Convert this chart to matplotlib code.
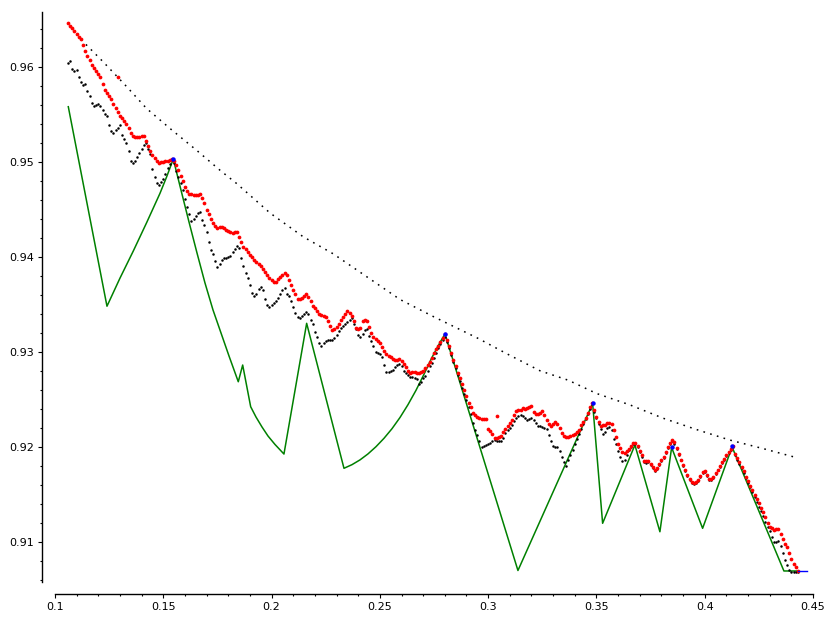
import numpy as np
import matplotlib
matplotlib.use("Agg")
import matplotlib.pyplot as plt
from matplotlib.ticker import FixedLocator, MultipleLocator

# dots are sampled every 0.001 starting at x = 0.106
X_START = 0.106
X_STEP = 0.001

red_y = [
    0.96460, 0.96431, 0.96403, 0.96375, 0.96346, 0.96318, 0.96290, 0.96230, 0.96170, 0.96117,  # 0.106
    0.96066, 0.96015, 0.95983, 0.95952, 0.95921, 0.95888, 0.95822, 0.95760, 0.95725, 0.95691,  # 0.116
    0.95657, 0.95611, 0.95565, 0.95519, 0.95484, 0.95459, 0.95427, 0.95396, 0.95355, 0.95300,  # 0.126
    0.95276, 0.95262, 0.95255, 0.95262, 0.95269, 0.95270, 0.95215, 0.95162, 0.95117, 0.95070,  # 0.136
    0.95040, 0.95005, 0.94985, 0.94992, 0.95000, 0.95006, 0.95012, 0.95018, 0.95024, 0.95010,  # 0.146
    0.94970, 0.94912, 0.94845, 0.94792, 0.94738, 0.94690, 0.94660, 0.94655, 0.94650, 0.94650,  # 0.156
    0.94654, 0.94655, 0.94615, 0.94565, 0.94492, 0.94446, 0.94400, 0.94360, 0.94320, 0.94300,  # 0.166
    0.94308, 0.94316, 0.94300, 0.94285, 0.94270, 0.94255, 0.94248, 0.94255, 0.94262, 0.94210,  # 0.176
    0.94160, 0.94105, 0.94077, 0.94049, 0.94020, 0.93995, 0.93970, 0.93947, 0.93923, 0.93900,  # 0.186
    0.93870, 0.93840, 0.93810, 0.93780, 0.93760, 0.93735, 0.93735, 0.93765, 0.93790, 0.93810,  # 0.196
    0.93830, 0.93805, 0.93760, 0.93705, 0.93650, 0.93605, 0.93555, 0.93555, 0.93570, 0.93585,  # 0.206
    0.93605, 0.93575, 0.93535, 0.93480, 0.93455, 0.93425, 0.93395, 0.93382, 0.93375, 0.93365,  # 0.216
    0.93320, 0.93270, 0.93228, 0.93240, 0.93262, 0.93295, 0.93330, 0.93365, 0.93400, 0.93430,  # 0.226
    0.93410, 0.93376, 0.93320, 0.93250, 0.93240, 0.93250, 0.93320, 0.93330, 0.93325, 0.93260,  # 0.236
    0.93200, 0.93158, 0.93135, 0.93110, 0.93088, 0.93050, 0.93010, 0.92980, 0.92958, 0.92940,  # 0.246
    0.92925, 0.92913, 0.92916, 0.92920, 0.92900, 0.92875, 0.92840, 0.92800, 0.92773, 0.92785,  # 0.256
    0.92785, 0.92773, 0.92780, 0.92789, 0.92800, 0.92825, 0.92855, 0.92895, 0.92935, 0.92985,  # 0.266
    0.93030, 0.93065, 0.93105, 0.93145, 0.93186, 0.93120, 0.93055, 0.92985, 0.92910, 0.92845,  # 0.276
    0.92780, 0.92720, 0.92655, 0.92595, 0.92530, 0.92465, 0.92420, 0.92360, 0.92330, 0.92310,  # 0.286
    0.92300, 0.92292, 0.92292, 0.92292, 0.92190, 0.92165, 0.92135, 0.92095, 0.92090, 0.92100,  # 0.296
    0.92115, 0.92150, 0.92190, 0.92218, 0.92250, 0.92285, 0.92330, 0.92380, 0.92390, 0.92390,  # 0.306
    0.92410, 0.92400, 0.92410, 0.92420, 0.92428, 0.92368, 0.92345, 0.92345, 0.92360, 0.92379,  # 0.316
    0.92330, 0.92281, 0.92235, 0.92215, 0.92240, 0.92263, 0.92240, 0.92200, 0.92141, 0.92115,  # 0.326
    0.92105, 0.92105, 0.92110, 0.92120, 0.92135, 0.92150, 0.92180, 0.92225, 0.92265, 0.92300,  # 0.336
    0.92350, 0.92415, 0.92463, 0.92390, 0.92318, 0.92260, 0.92218, 0.92225, 0.92230, 0.92245,  # 0.346
    0.92253, 0.92240, 0.92180, 0.92100, 0.92030, 0.91985, 0.91940, 0.91935, 0.91950, 0.91975,  # 0.356
    0.92005, 0.92036, 0.92042, 0.92010, 0.91960, 0.91910, 0.91850, 0.91845, 0.91853, 0.91820,  # 0.366
    0.91785, 0.91755, 0.91780, 0.91820, 0.91860, 0.91895, 0.91940, 0.91995, 0.92040, 0.92070,  # 0.376
    0.92045, 0.91990, 0.91925, 0.91865, 0.91810, 0.91755, 0.91700, 0.91655, 0.91630, 0.91622,  # 0.386
    0.91630, 0.91650, 0.91690, 0.91730, 0.91745, 0.91700, 0.91655, 0.91660, 0.91685, 0.91720,  # 0.396
    0.91760, 0.91797, 0.91835, 0.91870, 0.91910, 0.91945, 0.91975, 0.92005, 0.91928, 0.91880,  # 0.406
    0.91835, 0.91789, 0.91740, 0.91685, 0.91635, 0.91590, 0.91545, 0.91495, 0.91450, 0.91405,  # 0.416
    0.91360, 0.91310, 0.91260, 0.91200, 0.91160, 0.91140, 0.91125, 0.91130, 0.91135, 0.91080,  # 0.426
    0.91030, 0.90980, 0.90940, 0.90880, 0.90815, 0.90770, 0.90730, 0.90688,                    # 0.436
]

black_y = [
    0.96036, 0.96055, 0.95975, 0.95955, 0.95965, 0.95892, 0.95835, 0.95810, 0.95820, 0.95740,  # 0.106
    0.95690, 0.95620, 0.95582, 0.95595, 0.95610, 0.95590, 0.95545, 0.95500, 0.95485, 0.95390,  # 0.116
    0.95320, 0.95300, 0.95330, 0.95360, 0.95385, 0.95280, 0.95240, 0.95200, 0.95110, 0.95010,  # 0.126
    0.94985, 0.95010, 0.95045, 0.95090, 0.95135, 0.95180, 0.95200, 0.95130, 0.95080, 0.94920,  # 0.136
    0.94840, 0.94780, 0.94755, 0.94790, 0.94820, 0.94870, 0.94930, 0.94975, 0.95020, 0.94985,  # 0.146
    0.94905, 0.94840, 0.94775, 0.94700, 0.94610, 0.94520, 0.94450, 0.94380, 0.94395, 0.94430,  # 0.156
    0.94460, 0.94470, 0.94390, 0.94330, 0.94265, 0.94150, 0.94075, 0.94025, 0.93960, 0.93895,  # 0.166
    0.93928, 0.93965, 0.93983, 0.93983, 0.93995, 0.94010, 0.94045, 0.94080, 0.94110, 0.94090,  # 0.176
    0.93985, 0.93900, 0.93830, 0.93780, 0.93705, 0.93620, 0.93585, 0.93610, 0.93660, 0.93680,  # 0.186
    0.93650, 0.93560, 0.93495, 0.93476, 0.93490, 0.93510, 0.93535, 0.93570, 0.93605, 0.93645,  # 0.196
    0.93675, 0.93605, 0.93590, 0.93530, 0.93475, 0.93410, 0.93370, 0.93355, 0.93375, 0.93395,  # 0.206
    0.93418, 0.93395, 0.93330, 0.93290, 0.93210, 0.93150, 0.93090, 0.93060, 0.93090, 0.93115,  # 0.216
    0.93123, 0.93123, 0.93127, 0.93140, 0.93176, 0.93220, 0.93250, 0.93272, 0.93288, 0.93310,  # 0.226
    0.93334, 0.93358, 0.93290, 0.93240, 0.93176, 0.93160, 0.93190, 0.93230, 0.93240, 0.93165,  # 0.236
    0.93110, 0.93065, 0.93000, 0.92982, 0.92976, 0.92940, 0.92860, 0.92790, 0.92789, 0.92800,  # 0.246
    0.92812, 0.92835, 0.92860, 0.92875, 0.92850, 0.92800, 0.92775, 0.92750, 0.92737, 0.92730,  # 0.256
    0.92722, 0.92715, 0.92660, 0.92680, 0.92720, 0.92745, 0.92800, 0.92845, 0.92880, 0.92935,  # 0.266
    0.92990, 0.93040, 0.93085, 0.93125, 0.93160, 0.93100, 0.93040, 0.92970, 0.92895, 0.92825,  # 0.276
    0.92755, 0.92690, 0.92620, 0.92555, 0.92490, 0.92415, 0.92340, 0.92250, 0.92180, 0.92120,  # 0.286
    0.92060, 0.92000, 0.92005, 0.92015, 0.92028, 0.92040, 0.92055, 0.92068, 0.92062, 0.92055,  # 0.296
    0.92065, 0.92095, 0.92140, 0.92176, 0.92200, 0.92230, 0.92270, 0.92300, 0.92325, 0.92332,  # 0.306
    0.92320, 0.92300, 0.92285, 0.92290, 0.92298, 0.92280, 0.92250, 0.92220, 0.92213, 0.92208,  # 0.316
    0.92200, 0.92190, 0.92120, 0.92060, 0.92005, 0.91992, 0.91995, 0.91960, 0.91890, 0.91840,  # 0.326
    0.91795, 0.91860, 0.91915, 0.91970, 0.92025, 0.92080, 0.92130, 0.92185, 0.92240, 0.92290,  # 0.336
    0.92340, 0.92395, 0.92445, 0.92370, 0.92300, 0.92240, 0.92190, 0.92130, 0.92150, 0.92195,  # 0.346
    0.92204, 0.92178, 0.92080, 0.92025, 0.91960, 0.91890, 0.91850, 0.91855, 0.91910, 0.91965,  # 0.356
    0.91995, 0.92025, 0.92030, 0.91995, 0.91945, 0.91895, 0.91840, 0.91830, 0.91840, 0.91810,  # 0.366
    0.91775, 0.91745, 0.91770, 0.91810, 0.91850, 0.91885, 0.91930, 0.91985, 0.92030, 0.92055,  # 0.376
    0.92030, 0.91975, 0.91915, 0.91855, 0.91800, 0.91745, 0.91690, 0.91645, 0.91620, 0.91612,  # 0.386
    0.91620, 0.91640, 0.91680, 0.91720, 0.91735, 0.91690, 0.91645, 0.91650, 0.91675, 0.91710,  # 0.396
    0.91750, 0.91787, 0.91825, 0.91860, 0.91900, 0.91935, 0.91965, 0.91995, 0.91915, 0.91865,  # 0.406
    0.91820, 0.91775, 0.91725, 0.91670, 0.91620, 0.91575, 0.91525, 0.91470, 0.91420, 0.91370,  # 0.416
    0.91325, 0.91270, 0.91210, 0.91160, 0.91110, 0.91050, 0.91000, 0.90995, 0.91010, 0.90950,  # 0.426
    0.90880, 0.90810, 0.90750, 0.90700, 0.90686, 0.90684, 0.90684, 0.90684,                    # 0.436
]

# two stray red points off the main chain
red_extra_x = [0.1292, 0.3042]
red_extra_y = [0.95895, 0.92326]

# blue marked peaks
blue_x = [0.15462, 0.28006, 0.34825, 0.38500, 0.41280]
blue_y = [0.95028, 0.93186, 0.92463, 0.92000, 0.92007]

# blue tail segment at the bottom right
blue_line_x = [0.44317, 0.44733]
blue_line_y = [0.90692, 0.90692]

green_x = [0.10614, 0.12400, 0.13001, 0.13615, 0.14234, 0.14847, 0.15157, 0.15462,
           0.15817, 0.16187, 0.16556, 0.16925, 0.17295, 0.17664, 0.18033, 0.18463,
           0.18666, 0.19035, 0.19280, 0.19557, 0.19834, 0.20157, 0.20572, 0.21620,
           0.23343, 0.23712, 0.24081, 0.24450, 0.24820, 0.25189, 0.25558, 0.25928,
           0.26297, 0.26667, 0.27036, 0.27405, 0.27775, 0.28006,
           0.31376, 0.34825, 0.35286, 0.36777, 0.37931, 0.38472, 0.39903, 0.41264,
           0.43657, 0.44317]
green_y = [0.95579, 0.93479, 0.93775, 0.94060, 0.94360, 0.94667, 0.94842, 0.95028,
           0.94702, 0.94366, 0.94040, 0.93724, 0.93440, 0.93198, 0.92956, 0.92684,
           0.92860, 0.92421, 0.92313, 0.92208, 0.92113, 0.92024, 0.91923, 0.93299,
           0.91773, 0.91811, 0.91861, 0.91924, 0.92000, 0.92088, 0.92189, 0.92307,
           0.92442, 0.92593, 0.92762, 0.92939, 0.93097, 0.93186,
           0.90697, 0.92455, 0.91194, 0.92018, 0.91105, 0.91992, 0.91141, 0.91997,
           0.90692, 0.90692]

bound_x = [0.1059, 0.1123, 0.1223, 0.1331, 0.1423, 0.1531, 0.1654, 0.1762, 0.1839,
           0.1993, 0.2146, 0.2285, 0.2439, 0.2593, 0.2747, 0.2954, 0.3085, 0.3239,
           0.3370, 0.3501, 0.3655, 0.3808, 0.3963, 0.4116, 0.4270, 0.4416]
bound_y = [0.9646, 0.9628, 0.9605, 0.9579, 0.9556, 0.9535, 0.9512, 0.9491, 0.9477,
           0.9446, 0.9421, 0.9403, 0.9379, 0.9355, 0.9337, 0.9314, 0.9298, 0.9280,
           0.9270, 0.9256, 0.9244, 0.9230, 0.9218, 0.9207, 0.9198, 0.9189]

x_ticks = [0.1, 0.15, 0.2, 0.25, 0.3, 0.35, 0.4, 0.45]
x_labels = ["0.1", "0.15", "0.2", "0.25", "0.3", "0.35", "0.4", "0.45"]
y_ticks = [0.91, 0.92, 0.93, 0.94, 0.95, 0.96]
y_labels = ["0.91", "0.92", "0.93", "0.94", "0.95", "0.96"]


def main():
    red_x = X_START + X_STEP * np.arange(len(red_y))
    black_x = X_START + X_STEP * np.arange(len(black_y))

    fig = plt.figure(figsize=(8.31, 6.22), dpi=100)
    ax = fig.add_axes([55 / 831, 40 / 622, 758 / 831, 570 / 622])

    ax.plot(green_x, green_y, color="#008000", lw=1.1, zorder=1)
    ax.plot(bound_x, bound_y, color="black", lw=1.1,
            linestyle=(0, (1.1, 3.5)), zorder=2)
    ax.plot(black_x, black_y, "o", color="black", ms=1.8, mew=0, zorder=3)
    ax.plot(red_x, red_y, "o", color="#ff0000", ms=2.7, mew=0, zorder=4)
    ax.plot(red_extra_x, red_extra_y, "o", color="#ff0000", ms=2.7, mew=0,
            zorder=4)
    ax.plot(blue_line_x, blue_line_y, color="#0000ff", lw=1.0, zorder=4)
    ax.plot(blue_x, blue_y, "o", color="#0000ff", ms=3.2, mew=0, zorder=5)

    ax.set_xlim(0.1, 0.45)
    ax.set_ylim(0.90576, 0.96576)

    for side in ("top", "right"):
        ax.spines[side].set_visible(False)
    ax.spines["left"].set_position(("outward", 9.3))
    ax.spines["bottom"].set_position(("outward", 8.6))
    ax.spines["left"].set_linewidth(1.0)
    ax.spines["bottom"].set_linewidth(1.0)

    ax.xaxis.set_major_locator(FixedLocator(x_ticks))
    ax.set_xticklabels(x_labels)
    ax.xaxis.set_minor_locator(MultipleLocator(0.01))
    ax.yaxis.set_major_locator(FixedLocator(y_ticks))
    ax.set_yticklabels(y_labels)
    ax.yaxis.set_minor_locator(MultipleLocator(0.002))

    ax.tick_params(which="major", direction="out", length=3, width=0.8,
                   labelsize=8, pad=3)
    ax.tick_params(which="minor", direction="out", length=1.5, width=0.8)

    fig.savefig("out.png", dpi=100)


if __name__ == "__main__":
    main()
